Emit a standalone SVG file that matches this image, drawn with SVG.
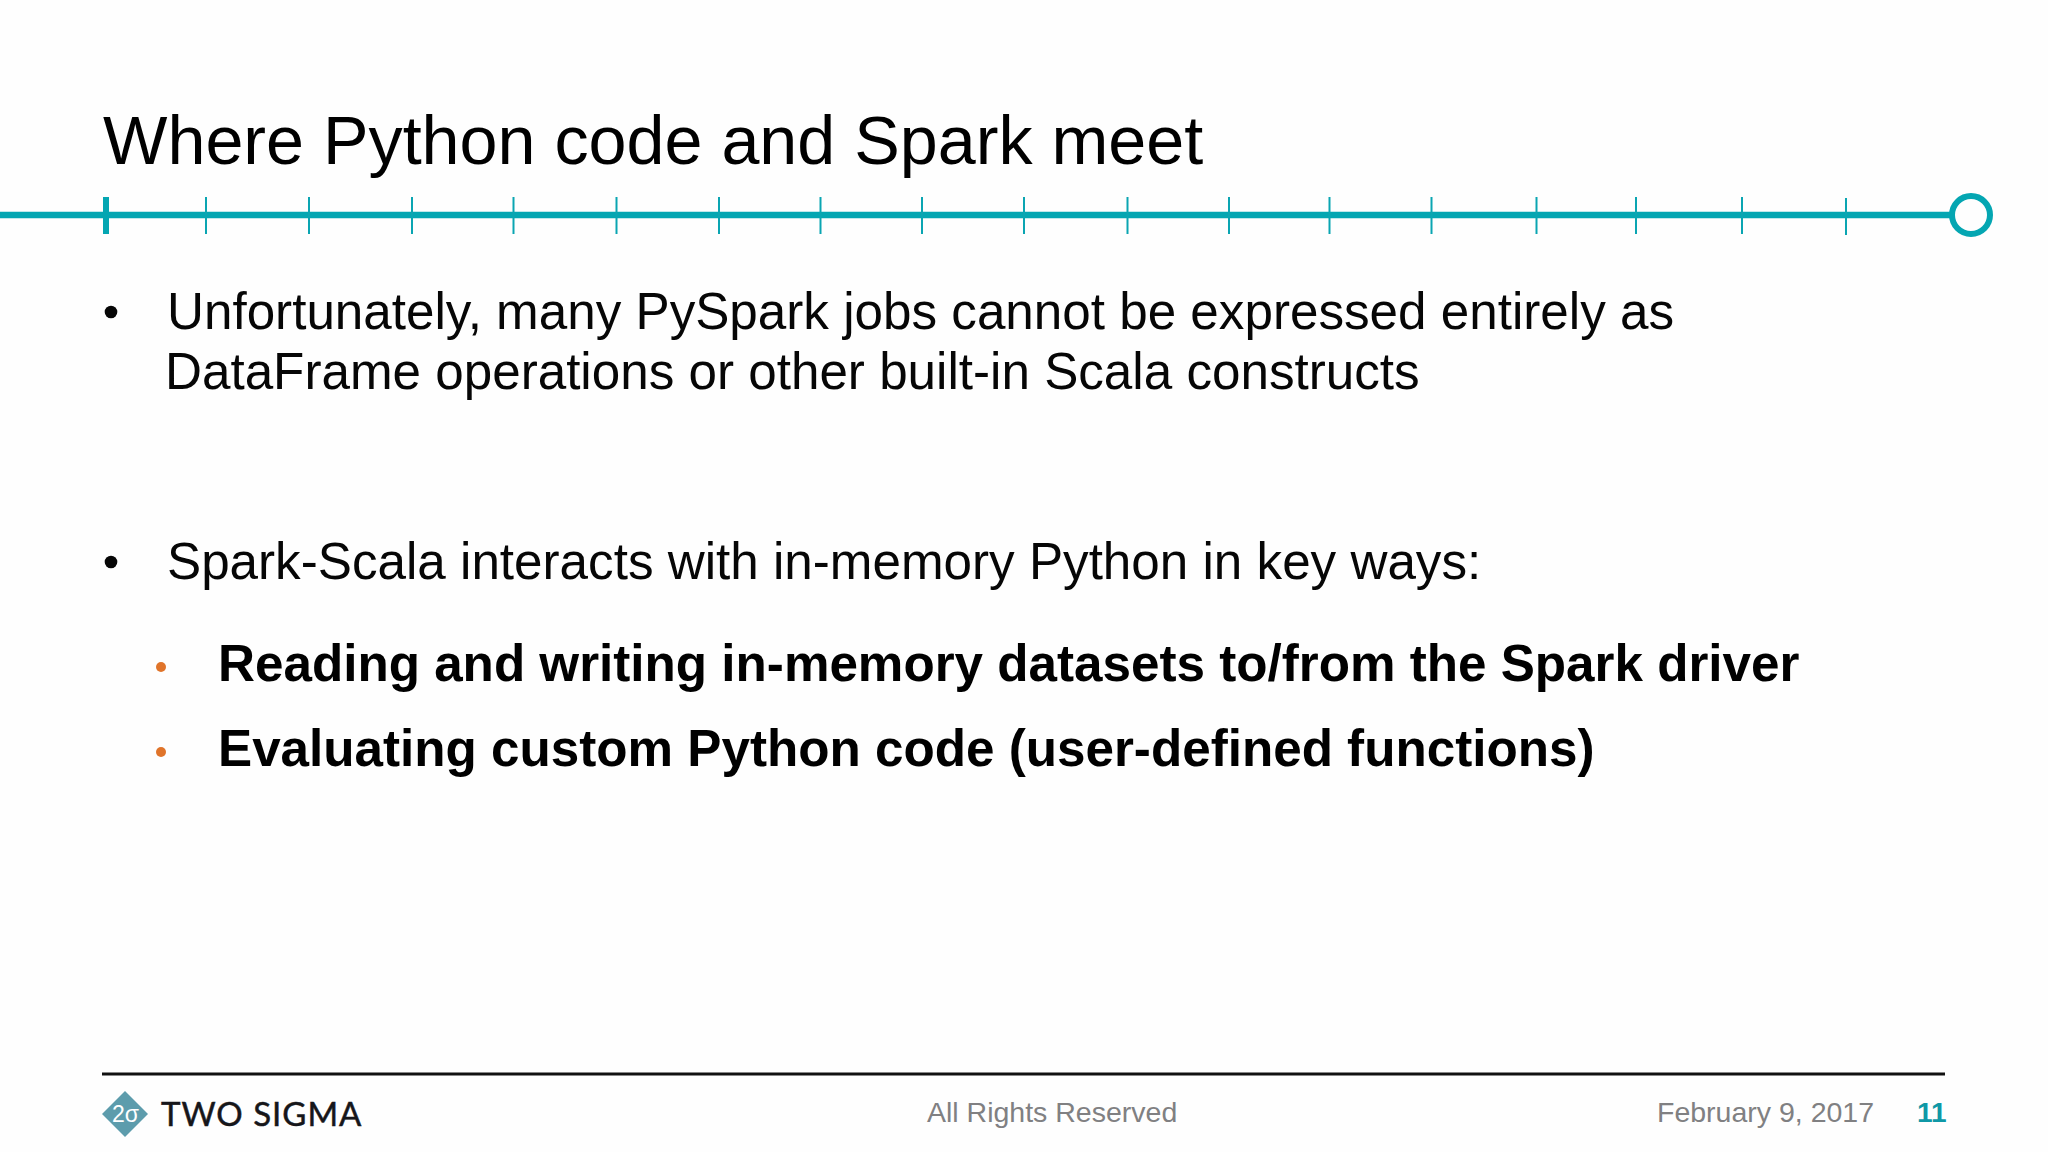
<svg xmlns="http://www.w3.org/2000/svg" width="2048" height="1152" viewBox="0 0 2048 1152">
<style>
text{font-family:"Liberation Sans",Arial,sans-serif}
.t{fill:#000}
.body{font-size:51.2px;fill:#060606}
.sub{font-size:51.2px;font-weight:bold;fill:#000}
.foot{font-size:28.5px;fill:#808082}
.tick{stroke:#0aa5b2;stroke-width:2}
</style>
<rect width="2048" height="1152" fill="#fefefe"/>
<text class="t" x="103" y="164" font-size="68.25">Where Python code and Spark meet</text>
<g id="timeline">
<line x1="0" y1="215" x2="1952" y2="215" stroke="#04a6b2" stroke-width="6.5"/>
<rect x="103" y="197" width="6" height="37" fill="#04a6b2"/>
<path class="tick" d="M206 197V234M309 197V234M412 197V234M513.500 197V234M616.500 197V234M719 197V234M820.500 197V234M922 197V234M1024 197V234M1127.500 197V234M1229 197V234M1329.500 197V234M1431.500 197V234M1536.500 197V234M1636 197V234M1742 197V234M1846 198V235"/>
<circle cx="1971" cy="215" r="19" fill="#fefefe" stroke="#04a6b2" stroke-width="6"/>
</g>
<circle cx="111" cy="312" r="6.300" fill="#060606"/>
<text class="body" x="167" y="329">Unfortunately, many PySpark jobs cannot be expressed entirely as</text>
<text class="body" x="165" y="389">DataFrame operations or other built-in Scala constructs</text>
<circle cx="111" cy="562" r="6.300" fill="#060606"/>
<text class="body" x="167" y="579">Spark-Scala interacts with in-memory Python in key ways:</text>
<circle cx="161" cy="667" r="5" fill="#e0742a"/>
<text class="sub" x="218" y="681">Reading and writing in-memory datasets to/from the Spark driver</text>
<circle cx="161" cy="752" r="5" fill="#e0742a"/>
<text class="sub" x="218" y="766">Evaluating custom Python code (user-defined functions)</text>
<line x1="102" y1="1074" x2="1945" y2="1074" stroke="#111" stroke-width="3"/>
<g id="logo">
<polygon points="125,1091 148,1114 125,1137 102,1114" fill="#5d9cac"/>
<text x="112" y="1122" font-size="24" fill="#fff" textLength="27" lengthAdjust="spacingAndGlyphs">2σ</text>
<text x="161" y="1125.500" font-size="33" fill="#16161a" stroke="#16161a" stroke-width="0.5" letter-spacing="1" style="font-family:Lato,sans-serif">TWO SIGMA</text>
</g>
<text class="foot" x="927" y="1122">All Rights Reserved</text>
<text class="foot" x="1657" y="1122">February 9, 2017</text>
<text x="1917" y="1122" font-size="28" font-weight="bold" fill="#0f98a6">11</text>
</svg>
